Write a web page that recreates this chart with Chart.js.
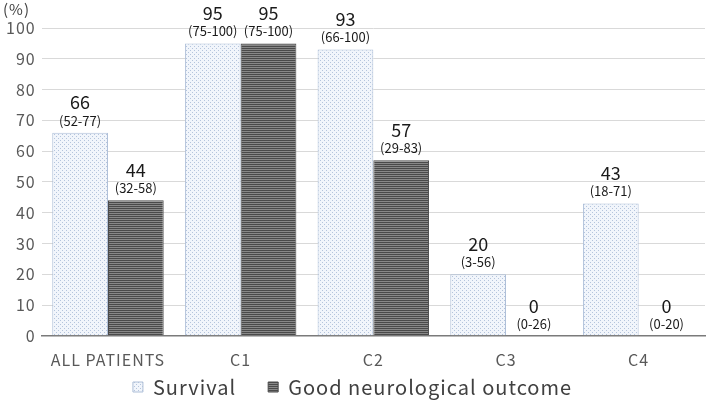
<!DOCTYPE html>
<html>
<head>
<meta charset="utf-8">
<script src="https://cdn.jsdelivr.net/npm/chart.js@4/dist/chart.umd.min.js"></script>
<style>
  body { margin: 0; background: #fff; }
  #out { display: block; }
</style>
</head>
<body>
<canvas id="out" width="709" height="407"></canvas>
<script>
const categories = ["ALL PATIENTS", "C1", "C2", "C3", "C4"];
const survival = [66, 95, 93, 20, 43];
const goodOutcome = [44, 95, 57, 0, 0];
const survivalCI = ["(52-77)", "(75-100)", "(66-100)", "(3-56)", "(18-71)"];
const goodOutcomeCI = ["(32-58)", "(75-100)", "(29-83)", "(0-26)", "(0-20)"];
const yTicks = [0, 10, 20, 30, 40, 50, 60, 70, 80, 90, 100];

const FONT = "'Noto Sans CJK JP', 'Noto Sans', sans-serif";

function dotPattern() {
  const c = document.createElement("canvas");
  c.width = 4; c.height = 4;
  const g = c.getContext("2d");
  g.fillStyle = "#f1f5fb";
  g.fillRect(0, 0, 4, 4);
  g.fillStyle = "#b4c4dc";
  g.fillRect(0, 0, 1, 1);
  g.fillRect(2, 2, 1, 1);
  return g.createPattern(c, "repeat");
}

function stripePattern() {
  const c = document.createElement("canvas");
  c.width = 2; c.height = 2;
  const g = c.getContext("2d");
  g.fillStyle = "#4a4a4a";
  g.fillRect(0, 0, 2, 1);
  g.fillStyle = "#888888";
  g.fillRect(0, 1, 2, 1);
  return g.createPattern(c, "repeat");
}

// wider letter spacing for axis and legend text (canvas resize resets it, so set before layout and draw)
const spacing = {
  id: "spacing",
  beforeUpdate(chart) { chart.ctx.letterSpacing = "1px"; },
  beforeDraw(chart) { chart.ctx.letterSpacing = "1px"; }
};

const barLabels = {
  id: "barLabels",
  afterDatasetsDraw(chart) {
    const ctx = chart.ctx;
    const cis = [survivalCI, goodOutcomeCI];
    ctx.save();
    ctx.letterSpacing = "0px";
    ctx.textAlign = "center";
    ctx.textBaseline = "middle";
    ctx.fillStyle = "#1a1a1a";
    chart.data.datasets.forEach((ds, di) => {
      chart.getDatasetMeta(di).data.forEach((bar, i) => {
        ctx.font = "13px " + FONT;
        ctx.fillText(cis[di][i], bar.x, bar.y - 12);
        ctx.font = "18px " + FONT;
        ctx.fillText(String(ds.data[i]), bar.x, bar.y - 30);
      });
    });
    // axis unit
    ctx.letterSpacing = "1px";
    ctx.font = "15px " + FONT;
    ctx.fillStyle = "#404040";
    ctx.textAlign = "left";
    ctx.fillText("(%)", 3, chart.chartArea.top - 19);
    ctx.restore();
  }
};

const chartConfig = {
  type: "bar",
  data: {
    labels: categories,
    datasets: [
      {
        label: "Survival",
        data: survival,
        backgroundColor: dotPattern(),
        borderColor: "#aebfd8",
        borderWidth: 1
      },
      {
        label: "Good neurological outcome",
        data: goodOutcome,
        backgroundColor: stripePattern(),
        borderColor: "#4a4a4a",
        borderWidth: 1
      }
    ]
  },
  options: {
    responsive: false,
    animation: false,
    layout: { padding: { top: 28, right: 4, left: 0, bottom: 0 } },
    scales: {
      x: {
        grid: { display: false },
        border: { color: "#7a7a7a", width: 1.5 },
        ticks: { color: "#595959", font: { family: FONT, size: 16 }, padding: 7 }
      },
      y: {
        min: 0,
        max: 100,
        afterBuildTicks(axis) { axis.ticks = yTicks.map(v => ({ value: v })); },
        grid: { color: "#d9d9d9", drawTicks: false },
        border: { display: false },
        ticks: { color: "#595959", font: { family: FONT, size: 16 }, padding: 6 }
      }
    },
    datasets: { bar: { categoryPercentage: 0.84, barPercentage: 1 } },
    plugins: {
      legend: {
        position: "bottom",
        maxHeight: 33,
        labels: {
          color: "#404040",
          font: { family: FONT, size: 20 },
          boxWidth: 10,
          boxHeight: 10,
          padding: 0,
          generateLabels(chart) {
            const items = Chart.defaults.plugins.legend.labels.generateLabels(chart);
            // extra room between the two legend entries
            items[0].text = items[0].text + "\u2003\u2002";
            return items;
          }
        }
      },
      tooltip: { enabled: false }
    }
  },
  plugins: [spacing, barLabels]
};

new Chart(document.getElementById("out").getContext("2d"), chartConfig);
</script>
</body>
</html>
